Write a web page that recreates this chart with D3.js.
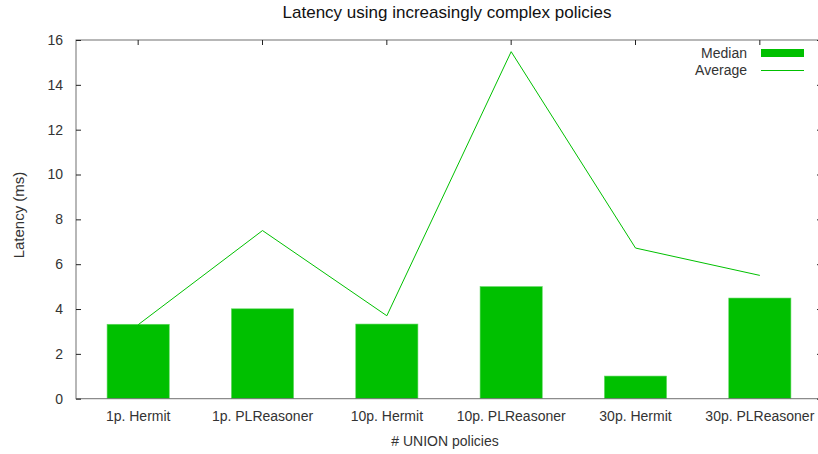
<!DOCTYPE html>
<html>
<head>
<meta charset="utf-8">
<script src="https://cdn.jsdelivr.net/npm/d3@7"></script>
<style>
  body { margin: 0; background: #fff; }
  text { font-family: "Liberation Sans", Arial, sans-serif; }
</style>
</head>
<body>
<svg id="chart" width="818" height="454"></svg>
<script>
var categories = ["1p. Hermit", "1p. PLReasoner", "10p. Hermit", "10p. PLReasoner", "30p. Hermit", "30p. PLReasoner"];
var medianValues = [3.32, 4.01, 3.33, 5.0, 1.01, 4.49];
var averageValues = [3.3, 7.5, 3.7, 15.48, 6.72, 5.5];
var yTicks = [0, 2, 4, 6, 8, 10, 12, 14, 16];

var svg = d3.select("#chart"),
  margin = { top: 40, left: 76 },
  width = 746,
  height = 358.7;

var green = "#00c000";

var x = d3.scaleBand().domain(categories).range([0, width]).paddingInner(0.5).paddingOuter(0.25),
  y = d3.scaleLinear().domain([0, 16]).range([height, 0]);

// centre of band
var cx = function(d) { return x(d) + x.bandwidth() / 2; };

var g = svg.append("g")
  .attr("transform", "translate(" + margin.left + "," + margin.top + ")");

// title
svg.append("text")
  .attr("x", 447)
  .attr("y", 18)
  .attr("text-anchor", "middle")
  .attr("font-size", "17px")
  .attr("fill", "#111")
  .text("Latency using increasingly complex policies");

// bars
g.selectAll("rect.bar")
  .data(categories)
  .enter()
  .append("rect")
  .attr("class", "bar")
  .attr("x", function(d) { return x(d); })
  .attr("y", function(d, i) { return y(medianValues[i]); })
  .attr("width", x.bandwidth())
  .attr("height", function(d, i) { return height - y(medianValues[i]); })
  .attr("fill", green)
  .attr("stroke", "#60d860")
  .attr("stroke-width", 0.6);

// average line
var line = d3.line()
  .x(function(d) { return cx(d[0]); })
  .y(function(d) { return y(d[1]); });

g.append("path")
  .datum(categories.map(function(c, i) { return [c, averageValues[i]]; }))
  .attr("d", line)
  .attr("fill", "none")
  .attr("stroke", green)
  .attr("stroke-width", 1);

// border (left, top, bottom, right beyond window)
g.append("rect")
  .attr("x", 0)
  .attr("y", 0)
  .attr("width", width)
  .attr("height", height)
  .attr("fill", "none")
  .attr("stroke", "#707070")
  .attr("stroke-width", 1);

// y axis
var yAxis = d3.axisLeft(y).tickValues(yTicks).tickSize(-5).tickPadding(13);
var ya = g.append("g").call(yAxis);
ya.select(".domain").remove();
ya.selectAll(".tick line").attr("stroke", "#222");
ya.selectAll(".tick text")
  .attr("font-size", "14px")
  .attr("fill", "#333")
  .style("font-family", "'Liberation Sans', Arial, sans-serif");

// mirrored y ticks on right
var yr = g.append("g").attr("transform", "translate(" + width + ",0)")
  .call(d3.axisRight(y).tickValues(yTicks).tickSize(-5).tickFormat(""));
yr.select(".domain").remove();
yr.selectAll(".tick line").attr("stroke", "#222");

// x axis
var xAxis = d3.axisBottom(x).tickSize(0).tickPadding(12);
var xa = g.append("g").attr("transform", "translate(0," + height + ")").call(xAxis);
xa.select(".domain").remove();
xa.selectAll(".tick text")
  .attr("font-size", "14px")
  .attr("fill", "#333")
  .style("font-family", "'Liberation Sans', Arial, sans-serif");

// top ticks
var xt = g.append("g").call(d3.axisTop(x).tickSize(-5).tickFormat(""));
xt.select(".domain").remove();
xt.selectAll(".tick line").attr("stroke", "#222");

// axis labels
svg.append("text")
  .attr("transform", "translate(24,215) rotate(-90)")
  .attr("text-anchor", "middle")
  .attr("font-size", "15px")
  .attr("fill", "#333")
  .text("Latency (ms)");

svg.append("text")
  .attr("x", 445)
  .attr("y", 446)
  .attr("text-anchor", "middle")
  .attr("font-size", "14px")
  .attr("fill", "#333")
  .text("# UNION policies");

// legend
var legend = svg.append("g");
legend.append("text")
  .attr("x", 747).attr("y", 58)
  .attr("text-anchor", "end")
  .attr("font-size", "14px")
  .attr("fill", "#333")
  .text("Median");
legend.append("rect")
  .attr("x", 761).attr("y", 49)
  .attr("width", 43).attr("height", 8)
  .attr("fill", green);
legend.append("text")
  .attr("x", 747).attr("y", 75)
  .attr("text-anchor", "end")
  .attr("font-size", "14px")
  .attr("fill", "#333")
  .text("Average");
legend.append("line")
  .attr("x1", 761).attr("x2", 804)
  .attr("y1", 70.5).attr("y2", 70.5)
  .attr("stroke", green)
  .attr("stroke-width", 1);
</script>
</body>
</html>
